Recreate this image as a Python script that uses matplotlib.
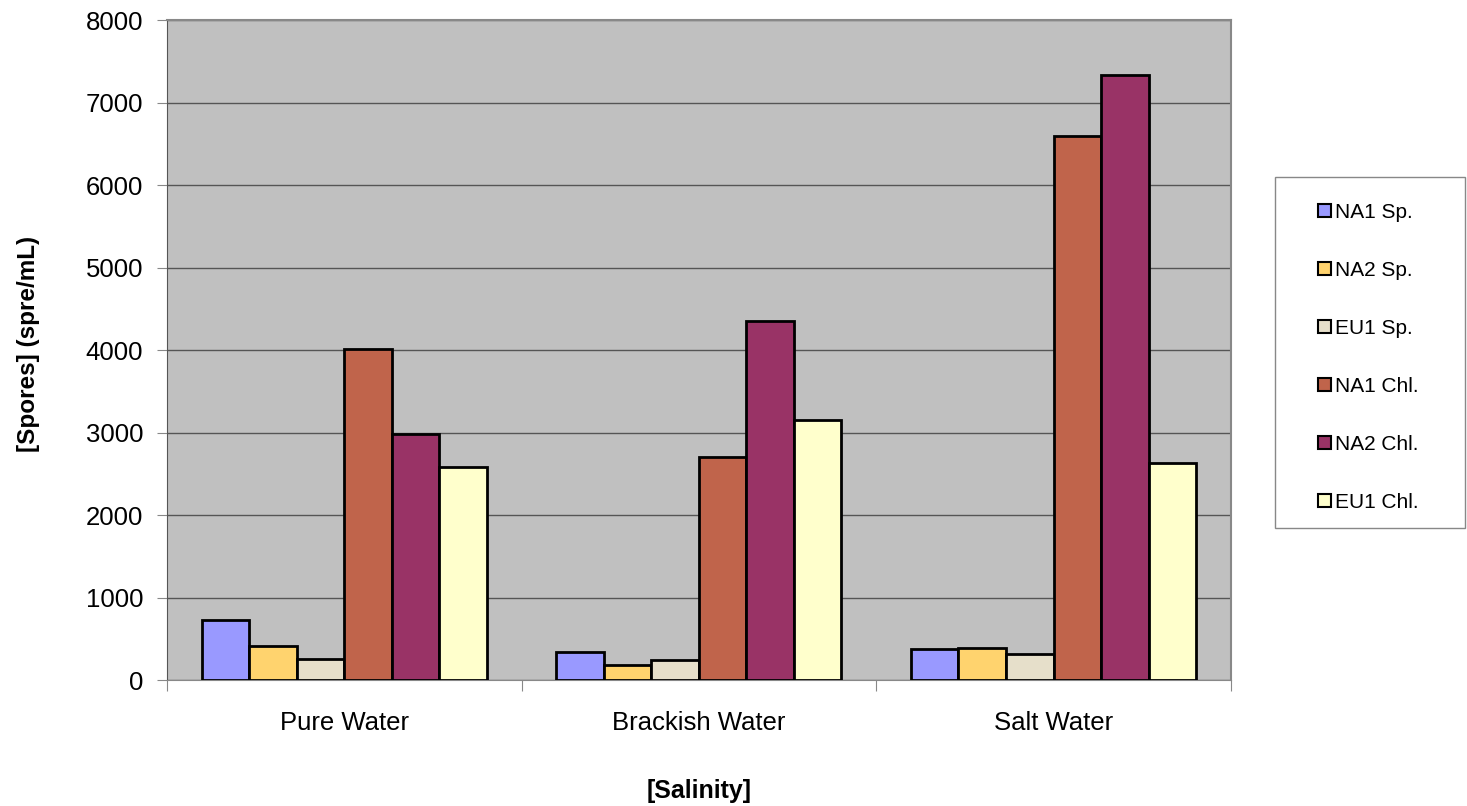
import numpy as np
import matplotlib.pyplot as plt
from matplotlib.patches import Rectangle

plt.rcParams['font.family'] = ['Liberation Sans', 'DejaVu Sans']

salinity = ['Pure Water', 'Brackish Water', 'Salt Water']
series = ['NA1 Sp.', 'NA2 Sp.', 'EU1 Sp.', 'NA1 Chl.', 'NA2 Chl.', 'EU1 Chl.']

na1_sp = [730, 340, 375]
na2_sp = [410, 185, 395]
eu1_sp = [260, 240, 320]
na1_chl = [4020, 2700, 6590]
na2_chl = [2990, 4350, 7330]
eu1_chl = [2580, 3150, 2630]

colors = ['#9999ff', '#ffd36e', '#e6dfca', '#c0644b', '#993366', '#ffffcc']

fig = plt.figure(figsize=(14.67, 8.06), dpi=100)
ax = fig.add_axes([0.1138, 0.156, 0.7252, 0.819])
ax.set_facecolor('#c0c0c0')

x = np.arange(len(salinity))
width = 0.134
values = [na1_sp, na2_sp, eu1_sp, na1_chl, na2_chl, eu1_chl]
for i, (name, vals) in enumerate(zip(series, values)):
    ax.bar(x + (i - 2.5) * width, vals, width, color=colors[i],
           edgecolor='black', linewidth=2, label=name, zorder=3)

ax.set_xlim(-0.5, 2.5)
ax.set_ylim(0, 8000)
ax.set_yticks(range(0, 8001, 1000))
ax.yaxis.grid(True, color='#555555', linewidth=1, zorder=0)

# category ticks sit on the boundaries between groups
ax.set_xticks([-0.5, 0.5, 1.5, 2.5])
ax.set_xticklabels([])
ax.set_xticks(x, minor=True)
ax.set_xticklabels(salinity, minor=True)
ax.tick_params(axis='x', which='minor', length=0, pad=22, labelsize=18.5)
ax.tick_params(axis='x', which='major', length=8, color='#888888')
ax.tick_params(axis='y', length=7, color='#888888', labelsize=18.5, pad=10)

for side in ['top', 'right']:
    ax.spines[side].set_color('#888888')
    ax.spines[side].set_linewidth(1.5)
ax.spines['left'].set_color('#555555')
ax.spines['bottom'].set_color('#888888')

ax.set_xlabel('[Salinity]', fontsize=18, fontweight='bold', va='center')
ax.xaxis.set_label_coords(0.5, -0.167)
ax.set_ylabel('[Spores] (spre/mL)', fontsize=17.5, fontweight='bold', va='center')
ax.yaxis.set_label_coords(-0.1306, 0.51)

# legend frame drawn separately so its padding can be set freely
fig.patches.append(Rectangle((1275 / 1467, 1 - 528 / 806), 190 / 1467, 351 / 806,
                             transform=fig.transFigure, facecolor='white',
                             edgecolor='#888888', linewidth=1))
leg = fig.legend(loc='upper left', bbox_to_anchor=(1318 / 1467, 1 - 203 / 806),
                 fontsize=15, frameon=False,
                 handlelength=0.6, handleheight=0.6, handletextpad=0.2,
                 labelspacing=1.87, borderpad=0, borderaxespad=0)
for h in leg.legend_handles:
    h.set_linewidth(1.5)

fig.savefig('out.png', dpi=100)
